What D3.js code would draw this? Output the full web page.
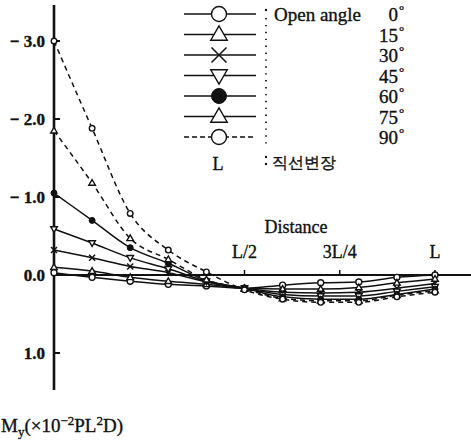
<!DOCTYPE html>
<html>
<head>
<meta charset="utf-8">
<script src="https://cdn.jsdelivr.net/npm/d3@7"></script>
<style>
  html, body { margin: 0; padding: 0; background: #fff; }
  svg { display: block; }
  text { font-family: "Liberation Serif", "DejaVu Serif", serif; fill: #111; stroke: #111; stroke-width: 0.35px; }
</style>
</head>
<body>
<svg id="chart" width="471" height="442"></svg>
<script>
// Distance along the member, as a fraction of L
const distance = [0, 0.1, 0.2, 0.3, 0.4, 0.5, 0.6, 0.7, 0.8, 0.9, 1.0];

// Open angle labels (degrees)
const angles = ["0", "15", "30", "45", "60", "75", "90"];

// M_y values (x10^-2 PL^2 D) for each open angle
const my0  = [-0.03, 0.03, 0.08, 0.12, 0.14, 0.17, 0.13, 0.10, 0.09, 0.03, 0.00];
const my15 = [-0.10, -0.05, 0.03, 0.08, 0.12, 0.17, 0.18, 0.18, 0.16, 0.10, 0.05];
const my30 = [-0.32, -0.22, -0.11, -0.03, 0.09, 0.17, 0.22, 0.23, 0.22, 0.17, 0.11];
const my45 = [-0.59, -0.41, -0.22, -0.08, 0.08, 0.17, 0.25, 0.27, 0.27, 0.21, 0.15];
const my60 = [-1.05, -0.70, -0.35, -0.15, 0.07, 0.17, 0.28, 0.31, 0.31, 0.25, 0.18];
const my75 = [-1.85, -1.18, -0.47, -0.20, 0.06, 0.18, 0.30, 0.33, 0.33, 0.26, 0.20];
const my90 = [-3.00, -1.88, -0.79, -0.32, -0.04, 0.19, 0.31, 0.35, 0.35, 0.28, 0.22];

// Axis tick labels
const yTicks = [-3, -2, -1, 0, 1];
const yTickLabels = ["\u2212 3.0", "\u2212 2.0", "\u2212 1.0", "0.0", "1.0"];
const xTicks = [0.5, 0.75, 1.0];
const xTickLabels = ["L/2", "3L/4", "L"];

const seriesValues = [my0, my15, my30, my45, my60, my75, my90];
const markerKinds = ["circle", "triangle", "cross", "triangleDown", "dot", "triangle", "circle"];
const dashed = [false, false, false, false, false, true, true];

const svg = d3.select("#chart");

const x = d3.scaleLinear().domain([0, 1]).range([54, 435]);
const y = d3.scaleLinear().domain([-3, 1]).range([41, 353]);

// Axes
const axisG = svg.append("g").attr("stroke", "#111").attr("fill", "none");
axisG.append("line").attr("x1", x(0)).attr("x2", x(0)).attr("y1", 5).attr("y2", 390)
  .attr("stroke-width", 2.6);
axisG.append("line").attr("x1", x(0)).attr("x2", 471).attr("y1", y(0)).attr("y2", y(0))
  .attr("stroke-width", 2.2);

// Y ticks, pointing into the plot
svg.append("g").selectAll("line").data(yTicks).join("line")
  .attr("x1", x(0)).attr("x2", x(0) + 6)
  .attr("y1", d => y(d)).attr("y2", d => y(d))
  .attr("stroke", "#111").attr("stroke-width", 2);

svg.append("g").selectAll("text").data(yTicks).join("text")
  .attr("x", 45).attr("y", d => y(d) + 6)
  .attr("text-anchor", "end")
  .attr("font-size", 17)
  .attr("font-weight", "bold")
  .text((d, i) => yTickLabels[i]);

// X ticks, pointing up, labels above the axis
svg.append("g").selectAll("line").data(xTicks).join("line")
  .attr("x1", d => x(d)).attr("x2", d => x(d))
  .attr("y1", y(0)).attr("y2", y(0) - 5)
  .attr("stroke", "#111").attr("stroke-width", 1.5);

svg.append("g").selectAll("text").data(xTicks).join("text")
  .attr("x", d => x(d)).attr("y", y(0) - 17)
  .attr("text-anchor", "middle")
  .attr("font-size", 18)
  .text((d, i) => xTickLabels[i]);

svg.append("text").attr("x", 296).attr("y", 233)
  .attr("text-anchor", "middle").attr("font-size", 18).text("Distance");

// Y axis title: M_y (x10^-2 PL^2 D)
const yTitle = svg.append("text").attr("x", 1).attr("y", 432).attr("font-size", 19);
yTitle.append("tspan").text("M");
yTitle.append("tspan").attr("font-size", 13).attr("dy", 4).text("y");
yTitle.append("tspan").attr("dy", -4).text("(\u00d710");
yTitle.append("tspan").attr("font-size", 13).attr("dy", -7).text("\u22122");
yTitle.append("tspan").attr("dy", 7).text("PL");
yTitle.append("tspan").attr("font-size", 13).attr("dy", -7).text("2");
yTitle.append("tspan").attr("dy", 7).text("D)");

// Marker drawing
function drawMarker(g, kind, cx, cy, s) {
  if (kind === "circle") {
    g.append("circle").attr("cx", cx).attr("cy", cy).attr("r", s)
      .attr("fill", "#fff").attr("stroke", "#111").attr("stroke-width", 1.4);
  } else if (kind === "dot") {
    g.append("circle").attr("cx", cx).attr("cy", cy).attr("r", s)
      .attr("fill", "#111").attr("stroke", "#111");
  } else if (kind === "triangle" || kind === "triangleDown") {
    const h = s * 1.9;
    const sign = kind === "triangle" ? 1 : -1;
    const pts = [[cx, cy - sign * h * 0.6], [cx - s * 1.1, cy + sign * h * 0.4], [cx + s * 1.1, cy + sign * h * 0.4]];
    g.append("polygon").attr("points", pts.map(p => p.join(",")).join(" "))
      .attr("fill", "#fff").attr("stroke", "#111").attr("stroke-width", 1.4);
  } else if (kind === "cross") {
    g.append("path")
      .attr("d", `M${cx - s},${cy - s}L${cx + s},${cy + s}M${cx - s},${cy + s}L${cx + s},${cy - s}`)
      .attr("stroke", "#111").attr("stroke-width", 1.5);
  }
}

// Data lines
const line = d3.line()
  .x((d, i) => x(distance[i]))
  .y(d => y(d))
  .curve(d3.curveMonotoneX);

const plot = svg.append("g");
seriesValues.forEach((vals, k) => {
  plot.append("path").datum(vals)
    .attr("d", line)
    .attr("fill", "none")
    .attr("stroke", "#111")
    .attr("stroke-width", 1.5)
    .attr("stroke-dasharray", dashed[k] ? "5,4" : null);
});
seriesValues.forEach((vals, k) => {
  const g = plot.append("g");
  const size = k === 6 ? 2.8 : 3;
  vals.forEach((v, i) => drawMarker(g, markerKinds[k], x(distance[i]), y(v), size));
});

// Legend
const legendY = angles.map((a, i) => 14 + i * 20.5);
const leg = svg.append("g");
angles.forEach((a, i) => {
  const ly = legendY[i];
  leg.append("line").attr("x1", 184).attr("x2", 256).attr("y1", ly).attr("y2", ly)
    .attr("stroke", "#111").attr("stroke-width", 1.5)
    .attr("stroke-dasharray", i === 6 ? "5,3" : null);
  drawMarker(leg, markerKinds[i], 219, ly, 7.5);
  leg.append("text").attr("x", 398).attr("y", ly + 7)
    .attr("text-anchor", "end").attr("font-size", 19).text(a);
  leg.append("text").attr("x", 399).attr("y", ly)
    .attr("font-size", 13).text("\u00b0");
});
// Colon and dotted leader
leg.append("circle").attr("cx", 266).attr("cy", 10).attr("r", 1.2).attr("fill", "#111");
leg.append("line").attr("x1", 266).attr("x2", 266).attr("y1", 18).attr("y2", 146)
  .attr("stroke", "#111").attr("stroke-width", 1.7).attr("stroke-dasharray", "1.4,5.5");
leg.append("text").attr("x", 274).attr("y", 21).attr("font-size", 19).text("Open  angle");

leg.append("text").attr("x", 218).attr("y", 170).attr("text-anchor", "middle")
  .attr("font-size", 18).text("L");
leg.append("circle").attr("cx", 266).attr("cy", 157).attr("r", 1.2).attr("fill", "#111");
leg.append("circle").attr("cx", 266).attr("cy", 164).attr("r", 1.2).attr("fill", "#111");
leg.append("text").attr("x", 272).attr("y", 168)
  .attr("font-family", "'Noto Sans CJK KR', sans-serif")
  .attr("font-size", 16).attr("stroke-width", 0.2).text("직선변장");
</script>
</body>
</html>
